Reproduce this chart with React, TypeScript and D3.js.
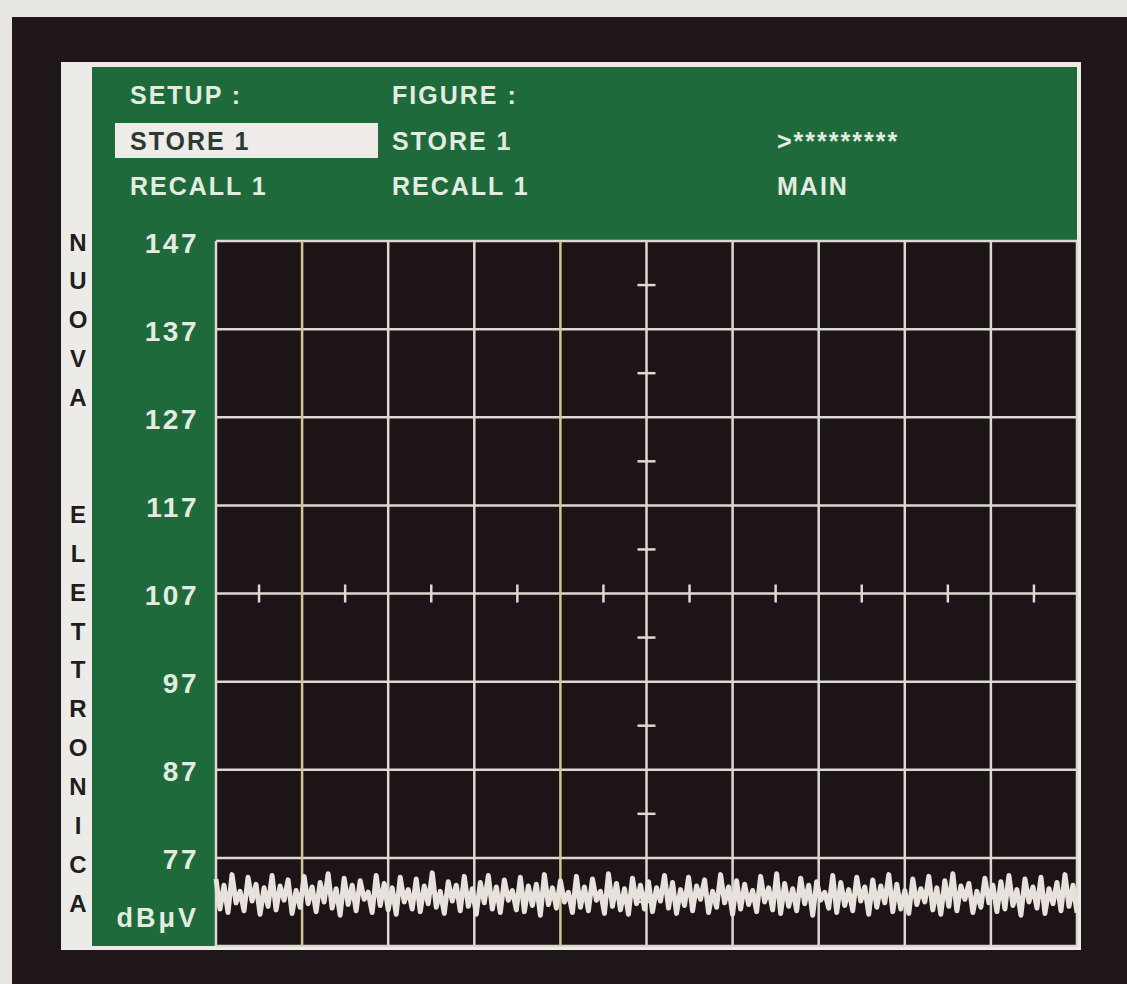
import React from 'react';
import * as d3 from 'd3';

// level scale (dBμV) shown on the left of the screen
const levelTicks = [147, 137, 127, 117, 107, 97, 87, 77];
const levelMin = 67;
const levelMax = 147;
const unitLabel = 'dBμV';
const xDivisions = 10;

// menu texts on the green header
const menuColumns = [
  ['SETUP :', 'STORE 1', 'RECALL 1'],
  ['FIGURE :', 'STORE 1', 'RECALL 1'],
  ['', '>*********', 'MAIN'],
];
const sideLetters = ['N', 'U', 'O', 'V', 'A', '', '', 'E', 'L', 'E', 'T', 'T', 'R', 'O', 'N', 'I', 'C', 'A'];

// noise floor trace (dBμV)
const noiseTrace = [
  74.6, 71.2, 73.9, 70.8, 75.1, 71.9, 73.2, 71.0, 74.8, 72.1, 74.0, 70.6,
  73.6, 71.5, 75.0, 71.1, 73.8, 72.2, 74.5, 70.7, 73.3, 71.4, 74.9, 71.8,
  73.7, 70.9, 74.2, 72.0, 75.2, 71.3, 73.5, 70.5, 74.7, 71.7, 73.9, 71.0,
  74.4, 72.3, 73.1, 70.8, 75.0, 71.6, 74.1, 71.1, 73.6, 70.6, 74.8, 72.0,
  73.4, 71.2, 74.6, 70.9, 73.8, 71.8, 75.3, 71.4, 73.2, 70.7, 74.3, 72.1,
  73.9, 71.0, 74.9, 71.5, 73.5, 70.6, 74.2, 71.9, 75.0, 71.2, 73.7, 70.8,
  74.5, 72.2, 73.3, 71.1, 74.8, 70.9, 73.8, 71.6, 74.0, 70.5, 75.1, 71.7,
  73.6, 71.3, 74.4, 72.0, 73.1, 70.8, 74.9, 71.4, 73.7, 71.0, 74.6, 72.2,
  73.2, 70.7, 75.2, 71.5, 74.1, 71.1, 73.5, 70.6, 74.7, 71.8, 73.9, 71.2,
  74.3, 70.9, 73.6, 72.1, 75.0, 71.3, 74.2, 70.7, 73.4, 71.6, 74.8, 71.0,
  73.8, 72.3, 74.5, 70.8, 73.2, 71.4, 75.1, 71.9, 73.7, 70.6, 74.4, 71.2,
  74.0, 71.7, 73.3, 70.9, 74.9, 72.0, 73.6, 71.1, 75.2, 70.7, 74.1, 71.5,
  73.5, 71.0, 74.7, 71.8, 73.9, 70.5, 74.3, 72.2, 73.1, 71.3, 75.0, 70.8,
  74.2, 71.6, 73.4, 71.0, 74.8, 72.1, 73.7, 70.6, 74.5, 71.4, 73.8, 71.9,
  75.1, 70.9, 74.0, 71.2, 73.3, 70.7, 74.6, 71.7, 73.5, 72.0, 74.9, 71.1,
  73.6, 70.6, 74.4, 71.5, 75.2, 71.0, 73.8, 72.3, 74.1, 70.8, 73.2, 71.4,
  74.7, 71.9, 73.9, 70.9, 74.3, 71.2, 75.0, 71.6, 73.4, 70.5, 74.6, 72.0,
  73.7, 71.3, 74.8, 70.7, 73.5, 71.8, 74.2, 71.0, 75.1, 71.5, 73.9, 70.8,
];

const W = 1127;
const H = 984;
const plot = { left: 216, right: 1077, top: 241, bottom: 946 };
const font = '"Liberation Sans", Arial, Helvetica, sans-serif';
const gridColor = '#dcd9d3';
const textColor = '#e3ece0';

const App: React.FC = () => {
  const y = d3.scaleLinear().domain([levelMin, levelMax]).range([plot.bottom, plot.top]);
  const x = d3.scaleLinear().domain([0, xDivisions]).range([plot.left, plot.right]);
  const xi = d3.scaleLinear().domain([0, noiseTrace.length - 1]).range([plot.left, plot.right]);

  const trace = d3.line<number>()
    .x((_, i) => xi(i))
    .y(d => y(d))(noiseTrace) || '';

  const gridX = d3.range(0, xDivisions + 1);
  const gridY = [levelMin, ...levelTicks];
  const centerX = x(xDivisions / 2);
  const centerLevel = 107;
  // small graduation marks on the centre cross
  const subX = d3.range(0.5, xDivisions, 1);
  const subY = d3.range(levelMin + 5, levelMax, 10);

  const colX = [130, 392, 777];
  const rowY = [95, 141, 186];

  return (
    <svg width={W} height={H} style={{ position: 'absolute', left: 0, top: 0 }} fontFamily={font}>
      <rect width={W} height={H} fill="#e6e5e2" />
      <rect x={12} y={17} width={W - 12} height={H - 17} fill="#1e1618" />
      {/* white bezel + green panel */}
      <rect x={61} y={62} width={1020} height={888} fill="#ecebe7" />
      <rect x={92} y={67} width={985} height={879} fill="#1f6a3b" />
      <rect x={plot.left} y={plot.top} width={plot.right - plot.left} height={plot.bottom - plot.top} fill="#1c1416" />

      {/* highlighted menu entry */}
      <rect x={115} y={123} width={263} height={35} fill="#eeebe8" />

      {menuColumns.map((col, ci) =>
        col.map((t, ri) => (
          <text
            key={`${ci}-${ri}`}
            x={colX[ci]}
            y={rowY[ri]}
            dominantBaseline="central"
            fontSize={25}
            fontWeight="bold"
            letterSpacing={2}
            fill={ci === 0 && ri === 1 ? '#2c3b31' : textColor}
          >
            {t}
          </text>
        ))
      )}

      {sideLetters.map((l, i) => (
        <text key={i} x={78} y={242 + i * 38.9} textAnchor="middle" dominantBaseline="central"
          fontSize={24} fontWeight="bold" fill="#1e1e1e">{l}</text>
      ))}

      {/* grid */}
      {gridY.map(v => (
        <line key={`h${v}`} x1={plot.left} x2={plot.right} y1={y(v)} y2={y(v)} stroke={gridColor} strokeWidth={2.5} />
      ))}
      {gridX.map(i => (
        <line key={`v${i}`} x1={x(i)} x2={x(i)} y1={plot.top} y2={plot.bottom}
          stroke={i === 1 || i === 4 ? '#d2c793' : gridColor} strokeWidth={2.5} />
      ))}
      {subX.map(i => (
        <line key={`sx${i}`} x1={x(i)} x2={x(i)} y1={y(centerLevel) - 9} y2={y(centerLevel) + 9} stroke={gridColor} strokeWidth={2.5} />
      ))}
      {subY.map(v => (
        <line key={`sy${v}`} x1={centerX - 9} x2={centerX + 9} y1={y(v)} y2={y(v)} stroke={gridColor} strokeWidth={2.5} />
      ))}

      {/* level labels */}
      {levelTicks.map(v => (
        <text key={`t${v}`} x={199} y={y(v) + 2} textAnchor="end" dominantBaseline="central"
          fontSize={28} fontWeight="bold" letterSpacing={2.5} fill={textColor}>{v}</text>
      ))}
      <text x={199} y={918} textAnchor="end" dominantBaseline="central" fontSize={27} fontWeight="bold"
        letterSpacing={3} fill={textColor}>{unitLabel}</text>

      {/* noise floor */}
      <path d={trace} fill="none" stroke="#e7e3dc" strokeWidth={5} strokeLinejoin="round" />
    </svg>
  );
};

export default App;
